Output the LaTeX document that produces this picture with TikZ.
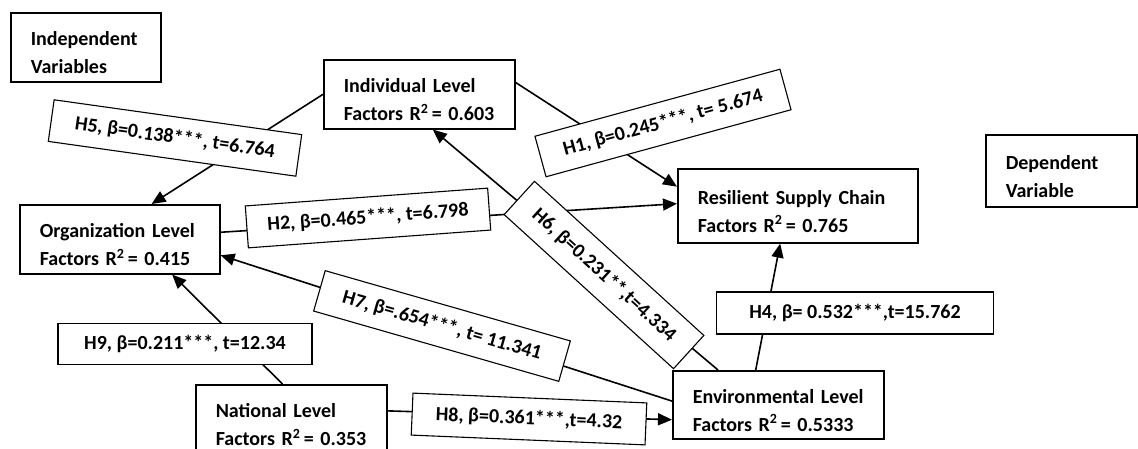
\documentclass[tikz,border=0pt]{standalone}
\usepackage{fontspec}
\setmainfont{Carlito}
\usetikzlibrary{arrows.meta}

\begin{document}
\begin{tikzpicture}[x=1pt,y=-1pt,>={Triangle[length=14pt,width=12pt]},
  every node/.style={font=\bfseries\fontsize{20}{28}\selectfont},
  box/.style={draw,line width=1.6pt,anchor=north west,inner xsep=20pt,inner ysep=0pt,
    execute at begin node={\rule{0pt}{25pt}}},
  hyp/.style={draw,fill=white,line width=1.1pt,minimum height=42pt,inner xsep=0pt},
  link/.style={line width=1.6pt}]
\useasboundingbox (0,0) rectangle (1138,449);
% variables
\node[box,text width=110pt,minimum height=69pt] (indep) at (10,12) {Independent\\Variables};
\node[box,text width=111pt,minimum height=72pt] (dep) at (985,134) {Dependent\\Variable};
\node[box,text width=151pt,minimum height=69pt] (ind) at (323,59) {Individual~Level\\Factors~R\textsuperscript{2}\,=~0.603};
\node[box,text width=200pt,minimum height=74pt] (res) at (677,168) {Resilient~Supply~Chain\\Factors~R\textsuperscript{2}\,=~0.765};
\node[box,text width=160pt,minimum height=69pt] (org) at (19,204) {Organization~Level\\Factors~R\textsuperscript{2}\,=~0.415};
\node[box,text width=151pt,minimum height=69pt] (nat) at (195,384) {National~Level\\Factors~R\textsuperscript{2}\,=~0.353};
\node[box,text width=171pt,minimum height=68pt] (env) at (672,370) {Environmental~Level\\Factors~R\textsuperscript{2}\,=~0.5333};
% paths
\draw[link,->] (ind.west) -- (org.48);
\draw[link,->] (ind.7) -- (res.171);
\draw[link,->] (org.4) -- (res.179);
\draw[link,->] (env.150) -- (ind.291);
\draw[link,->] (env.178) -- (org.-9);
\draw[link,->] (nat.104) -- (org.-34);
\draw[link,->] (nat.5) -- (env.188);
\draw[link,->] (env.123) -- (res.245);
% hypotheses
\node[hyp,minimum width=250pt,rotate=-8] (h5) at (175,138) {H5, β=0.138***, t=6.764};
\node[hyp,minimum width=254pt,rotate=15.3] (h1) at (663,123) {H1, β=0.245***, t= 5.674};
\node[hyp,minimum width=243pt,rotate=4.2] (h2) at (368,218) {H2, β=0.465***, t=6.798};
\node[hyp,minimum width=229pt,minimum height=45pt,rotate=-42.3] (h6) at (604,275) {H6, β=0.231**,t=4.334};
\node[hyp,minimum width=255pt,rotate=-16] (h7) at (442,326) {H7, β=.654***, t= 11.341};
\node[hyp,minimum width=254pt,minimum height=41pt] (h9) at (185,344) {H9, β=0.211***, t=12.34};
\node[hyp,minimum width=234pt,rotate=-2.4] (h8) at (529,419) {H8, β=0.361***,t=4.32};
\node[hyp,minimum width=277pt] (h4) at (855,313) {H4, β= 0.532***,t=15.762};
\end{tikzpicture}
\end{document}
